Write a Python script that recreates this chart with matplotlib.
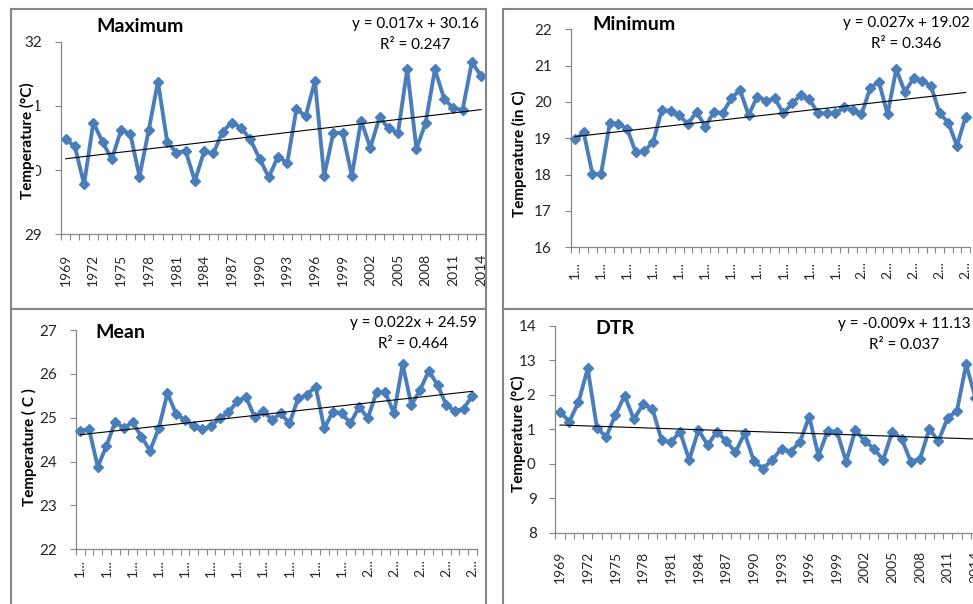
import numpy as np
import matplotlib
matplotlib.use("Agg")
import matplotlib.pyplot as plt
from matplotlib.patches import Rectangle

plt.rcParams['font.family'] = ['Lato', 'DejaVu Sans']

W, H = 973, 604

years = list(range(1969, 2015))

max_temp = [30.48, 30.37, 29.78, 30.74, 30.44, 30.17, 30.62, 30.57, 29.90, 30.62,
            31.38, 30.44, 30.27, 30.30, 29.83, 30.29, 30.26, 30.60, 30.74, 30.66,
            30.48, 30.18, 29.89, 30.21, 30.11, 30.95, 30.84, 31.39, 29.91, 30.58,
            30.58, 29.91, 30.77, 30.35, 30.82, 30.65, 30.58, 31.57, 30.33, 30.74,
            31.57, 31.11, 30.96, 30.94, 31.68, 31.47]

min_temp = [18.97, 19.16, 18.02, 18.02, 19.42, 19.40, 19.26, 18.61, 18.64, 18.91,
            19.78, 19.75, 19.64, 19.39, 19.73, 19.32, 19.73, 19.69, 20.10, 20.33,
            19.64, 20.15, 20.04, 20.10, 19.69, 19.96, 20.19, 20.07, 19.69, 19.69,
            19.69, 19.85, 19.78, 19.66, 20.38, 20.56, 19.66, 20.90, 20.28, 20.65,
            20.58, 20.44, 19.69, 19.43, 18.79, 19.60]

mean_temp = [24.70, 24.74, 23.88, 24.36, 24.91, 24.76, 24.90, 24.57, 24.25, 24.76,
             25.56, 25.08, 24.95, 24.82, 24.74, 24.80, 24.99, 25.12, 25.37, 25.48,
             25.02, 25.15, 24.95, 25.10, 24.87, 25.44, 25.52, 25.71, 24.76, 25.14,
             25.10, 24.87, 25.25, 24.99, 25.58, 25.58, 25.10, 26.22, 25.29, 25.63,
             26.07, 25.75, 25.29, 25.15, 25.21, 25.50]

dtr = [11.51, 11.22, 11.78, 12.76, 11.04, 10.78, 11.41, 11.97, 11.29, 11.72,
       11.60, 10.69, 10.62, 10.93, 10.11, 10.98, 10.54, 10.93, 10.66, 10.33,
       10.88, 10.08, 9.86, 10.11, 10.44, 10.35, 10.64, 11.36, 10.23, 10.95,
       10.93, 10.06, 10.98, 10.66, 10.44, 10.11, 10.93, 10.73, 10.06, 10.14,
       11.00, 10.66, 11.33, 11.53, 12.88, 11.91]

# linear trend fits (x = year index starting at 1)
slopes = [0.017, 0.027, 0.022, -0.009]
intercepts = [30.16, 19.02, 24.59, 11.13]
r_squared = [0.247, 0.346, 0.464, 0.037]

titles = ['Maximum', 'Minimum', 'Mean', 'DTR']
ylabels = ['Temperature (°C)', 'Temperature (in C)', 'Temperature ( C )', 'Temperature (°C)']

BLUE = '#4a7ebb'
GRAY = '#868686'


def fig_box(left, top, right, bottom):
    return [left / W, 1 - bottom / H, (right - left) / W, (bottom - top) / H]


def draw_panel(fig, box, values, slope, intercept, r2, title, ylabel, ylim,
               short_labels, label_xy, title_xy, eq_xy, xpad):
    ax = fig.add_axes(fig_box(*box))
    ax.set_facecolor('none')
    idx = np.arange(1, len(values) + 1)
    ax.plot(idx, values, color=BLUE, lw=2.8, marker='D', ms=5,
            mec=BLUE, mfc=BLUE, zorder=2, clip_on=False)
    trend = slope * idx + intercept
    ax.plot(idx, trend, color='black', lw=0.8, zorder=3)

    ax.set_xlim(0.5, len(values) + 0.5)
    ax.set_ylim(*ylim)
    ax.set_yticks(np.arange(ylim[0], ylim[1] + 1, 1))
    ax.tick_params(axis='y', length=4.5, width=0.8, color=GRAY, pad=9,
                   labelsize=11, labelcolor='#262626')

    lab_pos = idx[::3]
    if short_labels:
        labs = [str(years[i - 1])[0] + '...' for i in lab_pos]
    else:
        labs = [str(years[i - 1]) for i in lab_pos]
    ax.set_xticks(lab_pos)
    ax.set_xticklabels(labs, rotation=90)
    ax.set_xticks(np.arange(0.5, len(values) + 1, 1), minor=True)
    ax.tick_params(axis='x', which='major', length=0, pad=xpad,
                   labelsize=10, labelcolor='#262626')
    ax.tick_params(axis='x', which='minor', length=4.5, width=0.8, color=GRAY)

    for side in ['top', 'right']:
        ax.spines[side].set_visible(False)
    for side in ['left', 'bottom']:
        ax.spines[side].set_color(GRAY)
        ax.spines[side].set_linewidth(0.9)

    ax.set_ylabel(ylabel, fontsize=11, fontweight='bold', va='center',
                  bbox=dict(facecolor='white', edgecolor='none', pad=0.5))
    ax.yaxis.set_label_coords(*label_xy)

    fig.text(title_xy[0] / W, 1 - title_xy[1] / H, title, fontsize=14,
             fontweight='bold', ha='left', va='center')
    eq = f'y = {slope:.3f}x + {intercept:.2f}'
    fig.text(eq_xy[0] / W, 1 - eq_xy[1] / H, eq, fontsize=11, ha='center', va='center')
    fig.text(eq_xy[0] / W, 1 - (eq_xy[1] + 21) / H, f'R² = {r2:.3f}', fontsize=11,
             ha='center', va='center')
    return ax


fig = plt.figure(figsize=(W / 100, H / 100), dpi=100)

# chart frames
frames = [(11, 9, 485.5, 309), (503.5, 8.5, 990, 309),
          (11, 308.5, 485.5, 620), (503.5, 308.5, 990, 620)]
for l, t, r, b in frames:
    fig.add_artist(Rectangle((l / W, 1 - b / H), (r - l) / W, (b - t) / H,
                             transform=fig.transFigure, fill=False,
                             edgecolor=GRAY, lw=1.5, zorder=5))

draw_panel(fig, (61, 41.7, 485.7, 234.3), max_temp, slopes[0], intercepts[0],
           r_squared[0], titles[0], ylabels[0], (29, 32), False,
           (-0.078, 0.484), (96, 26), (415, 24), 14)
draw_panel(fig, (570.7, 29.3, 970, 247.3), min_temp, slopes[1], intercepts[1],
           r_squared[1], titles[1], ylabels[1], (16, 22), True,
           (-0.129, 0.428), (592, 25), (906, 23), 10)
draw_panel(fig, (76, 330, 476.7, 549.3), mean_temp, slopes[2], intercepts[2],
           r_squared[2], titles[2], ylabels[2], (22, 27), True,
           (-0.117, 0.466), (95, 332), (413, 323), 7)
draw_panel(fig, (555.4, 325.7, 980, 532.7), dtr, slopes[3], intercepts[3],
           r_squared[3], titles[3], ylabels[3], (8, 14), False,
           (-0.086, 0.477), (595, 328), (904, 324), 13)

fig.savefig('out.png', dpi=100)
